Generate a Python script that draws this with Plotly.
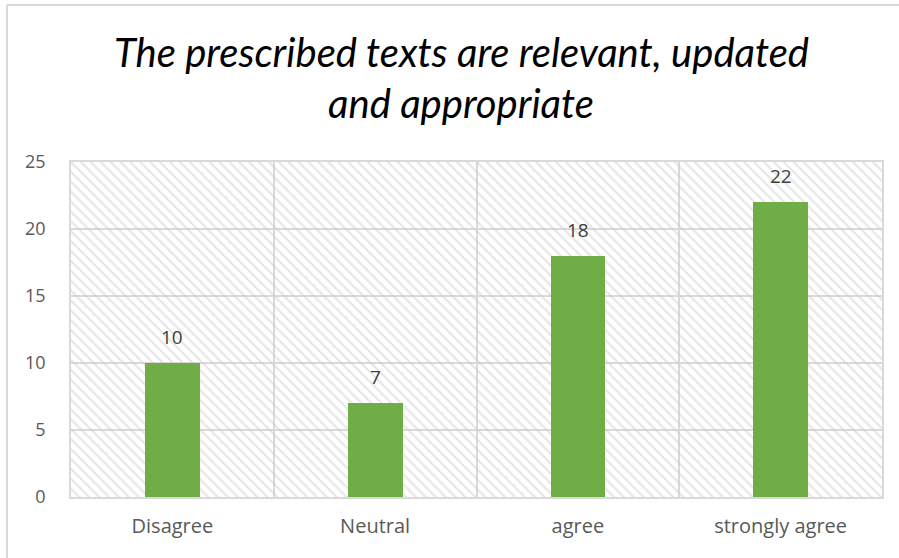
import plotly.graph_objects as go

categories = ["Disagree", "Neutral", "agree", "strongly agree"]
values = [10, 7, 18, 22]
y_ticks = [0, 5, 10, 15, 20, 25]
title_lines = ["The prescribed texts are relevant, updated", "and appropriate"]
Y_MAX = 25

W, H = 899, 558
L, R, T, B = 71, 882, 162, 497
pw, ph = R - L, B - T

def px(x):
    return (x - L) / pw

def py(y):
    return (B - y) / ph

fig = go.Figure()

# hatched plot background
fig.add_trace(go.Bar(
    x=categories, y=[Y_MAX] * len(categories), width=1,
    marker=dict(color="rgba(0,0,0,0)", line=dict(width=0),
                pattern=dict(shape="\\", fgcolor="#cccccc", size=7, solidity=0.3, fillmode="overlay")),
    hoverinfo="skip", showlegend=False,
))

fig.add_trace(go.Bar(
    x=categories, y=values, width=0.27,
    marker=dict(color="#70AD47", line=dict(width=0)),
    showlegend=False,
))

for c, v in zip(categories, values):
    fig.add_annotation(x=c, y=v, text=str(v), showarrow=False, yanchor="middle", yshift=26,
                       font=dict(family="Open Sans, sans-serif", size=19, color="#404040"))

for i, line in enumerate(title_lines):
    fig.add_annotation(xref="paper", yref="paper", x=px(461), y=py(52 + i * 51), text=line,
                       showarrow=False, xanchor="center", yanchor="middle",
                       font=dict(family="Lato, sans-serif", size=40, color="#000000", style="italic"))

# outer chart border (left and top visible)
fig.add_shape(type="line", xref="paper", yref="paper", x0=px(7), x1=px(7), y0=py(5), y1=py(560),
              line=dict(color="#d9d9d9", width=2))
fig.add_shape(type="line", xref="paper", yref="paper", x0=px(7), x1=px(900), y0=py(5), y1=py(5),
              line=dict(color="#d9d9d9", width=2))

fig.update_layout(
    width=W, height=H,
    margin=dict(l=L, r=W - R, t=T, b=H - B, pad=0),
    paper_bgcolor="white", plot_bgcolor="white",
    barmode="overlay", bargap=0,
    xaxis=dict(range=[-0.5, 3.5], tickson="boundaries", showgrid=True, gridcolor="#d9d9d9", gridwidth=1.5,
               showline=True, linecolor="#d9d9d9", linewidth=1.5, mirror=True, ticks="",
               ticklabelstandoff=10,
               tickfont=dict(family="Open Sans, sans-serif", size=20, color="#595959")),
    yaxis=dict(range=[0, Y_MAX], tickvals=y_ticks, showgrid=True, gridcolor="#d9d9d9", gridwidth=1.5,
               showline=True, linecolor="#d9d9d9", linewidth=1.5, mirror=True, zeroline=False, ticks="",
               ticklen=0, ticklabelstandoff=20,
               tickfont=dict(family="Open Sans, sans-serif", size=18, color="#595959")),
)

fig.write_html("out.html", config={"displayModeBar": False},
               post_script="document.body.style.margin='0px';")
